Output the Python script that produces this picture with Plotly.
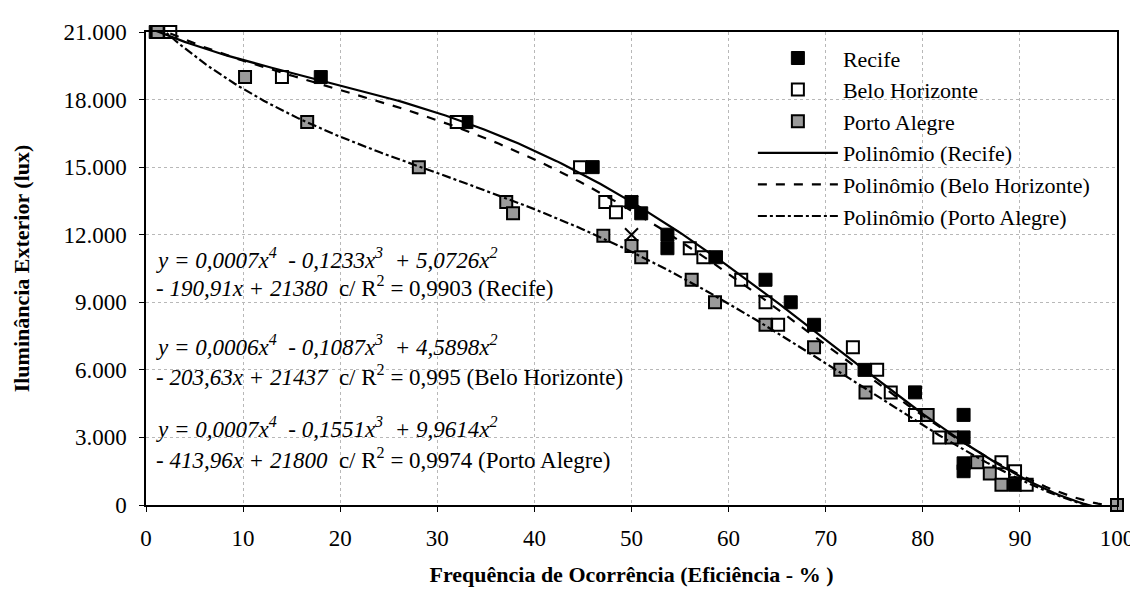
import numpy as np
import plotly.graph_objects as go

# ---------------- data ----------------
recife_x = [1, 18, 33, 46, 50, 51, 53.7, 53.7, 58.7, 63.8, 66.4, 68.8, 74, 79.2, 84.2, 84.2, 84.2, 84.2, 89.5, 100]
recife_y = [21000, 19000, 17000, 15000, 13450, 12950, 12000, 11400, 11000, 10000, 9000, 8000, 6000, 5000, 4000, 3000, 1850, 1500, 900, 0]

bh_x = [2.5, 14, 32, 44.7, 47.3, 48.4, 56, 57.4, 61.3, 63.8, 65.1, 72.8, 75.3, 76.7, 79.2, 81.7, 88.1, 89.5, 90.7, 100]
bh_y = [21000, 19000, 17000, 15000, 13450, 13000, 11400, 11000, 10000, 9000, 8000, 7000, 6000, 5000, 4000, 3000, 1900, 1500, 900, 0]

pa_x = [1.2, 10.2, 16.6, 28.1, 37.1, 37.8, 47.1, 50, 51, 56.2, 58.6, 63.8, 68.8, 71.5, 74.1, 80.5, 83, 85.6, 86.9, 88.1, 100]
pa_y = [21000, 19000, 17000, 15000, 13450, 12950, 11950, 11500, 11000, 10000, 9000, 8000, 7000, 6000, 5000, 4000, 3000, 1900, 1400, 900, 0]

cross_x = [50, 50]
cross_y = [13450, 12000]

x_ticks = [0, 10, 20, 30, 40, 50, 60, 70, 80, 90, 100]
y_ticks = [0, 3000, 6000, 9000, 12000, 15000, 18000, 21000]
y_tick_text = ["0", "3.000", "6.000", "9.000", "12.000", "15.000", "18.000", "21.000"]

eq_lines = [
    "<i>y = 0,0007x<sup>4</sup>  - 0,1233x<sup>3</sup>  + 5,0726x<sup>2</sup></i>",
    "<i>- 190,91x + 21380</i>  c/ R<sup>2</sup> = 0,9903 (Recife)",
    "<i>y = 0,0006x<sup>4</sup>  - 0,1087x<sup>3</sup>  + 4,5898x<sup>2</sup></i>",
    "<i>- 203,63x + 21437</i>  c/ R<sup>2</sup> = 0,995 (Belo Horizonte)",
    "<i>y = 0,0007x<sup>4</sup>  - 0,1551x<sup>3</sup>  + 9,9614x<sup>2</sup></i>",
    "<i>- 413,96x + 21800</i>  c/ R<sup>2</sup> = 0,9974 (Porto Alegre)",
]
eq_y = [0.522, 0.462, 0.338, 0.274, 0.164, 0.099]

FONT = "Liberation Serif"

def trend(xs, ys):
    c = np.polyfit(xs, ys, 4)
    xx = np.linspace(min(xs), max(xs), 200)
    return xx.tolist(), np.polyval(c, xx).tolist()

fig = go.Figure()

fig.add_trace(go.Scatter(x=recife_x, y=recife_y, mode="markers", name="Recife",
                         marker=dict(symbol="square", size=13, color="black",
                                     line=dict(color="black", width=1)), cliponaxis=False))
fig.add_trace(go.Scatter(x=bh_x, y=bh_y, mode="markers", name="Belo Horizonte",
                         marker=dict(symbol="square", size=12, color="white",
                                     line=dict(color="black", width=2)), cliponaxis=False))
fig.add_trace(go.Scatter(x=pa_x, y=pa_y, mode="markers", name="Porto Alegre",
                         marker=dict(symbol="square", size=12, color="#9a9a9a",
                                     line=dict(color="black", width=2)), cliponaxis=False))
fig.add_trace(go.Scatter(x=cross_x, y=cross_y, mode="markers", showlegend=False,
                         marker=dict(symbol="x-thin", size=13, line=dict(color="black", width=2))))

for xs, ys, nm, dash in [(recife_x, recife_y, "Polinômio (Recife)", "solid"),
                         (bh_x, bh_y, "Polinômio (Belo Horizonte)", "dash"),
                         (pa_x, pa_y, "Polinômio (Porto Alegre)", "dashdot")]:
    xx, yy = trend(xs, ys)
    fig.add_trace(go.Scatter(x=xx, y=yy, mode="lines", name=nm,
                             line=dict(color="black", width=2.2, dash=dash), cliponaxis=False))

for t, yv in zip(eq_lines, eq_y):
    fig.add_annotation(text=t, xref="paper", yref="paper", x=0.008, y=yv,
                       xanchor="left", yanchor="middle", showarrow=False,
                       font=dict(family=FONT, size=23))

fig.update_layout(
    width=1138, height=599,
    margin=dict(l=138, r=21, t=22, b=102),
    paper_bgcolor="white", plot_bgcolor="white",
    font=dict(family=FONT, size=22, color="black"),
    legend=dict(x=0.625, y=0.989, xanchor="left", yanchor="top",
                bgcolor="rgba(0,0,0,0)", itemwidth=80,
                font=dict(family=FONT, size=22), tracegroupgap=0),
    xaxis=dict(range=[0, 100], tickvals=x_ticks, showgrid=True,
               gridcolor="#b8b8b8", griddash="dot", gridwidth=1,
               showline=True, linecolor="black", linewidth=1.5, mirror=True,
               ticks="outside", ticklen=5, tickcolor="black", ticklabelstandoff=7,
               zeroline=False,
               tickfont=dict(family=FONT, size=23),
               title=dict(text="<b>Frequência de Ocorrência (Eficiência - % )</b>",
                          font=dict(family=FONT, size=22), standoff=16)),
    yaxis=dict(range=[0, 21000], tickvals=y_ticks, ticktext=y_tick_text, showgrid=True,
               gridcolor="#b8b8b8", griddash="dot", gridwidth=1,
               showline=True, linecolor="black", linewidth=1.5, mirror=True,
               ticks="outside", ticklen=5, tickcolor="black", ticklabelstandoff=8,
               zeroline=False,
               tickfont=dict(family=FONT, size=23),
               title=dict(text="<b>Iluminância Exterior (lux)</b>",
                          font=dict(family=FONT, size=22), standoff=28)),
)

fig.write_html("out.html")
